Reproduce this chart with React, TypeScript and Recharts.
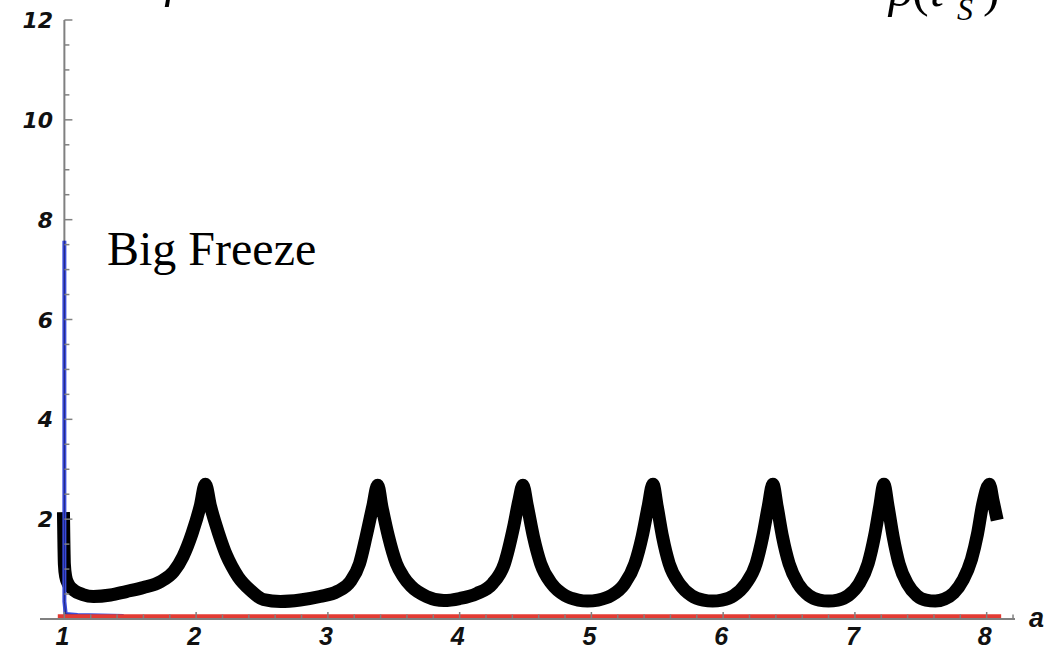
import { Line, LineChart, ReferenceLine, XAxis, YAxis } from "recharts";

// a (scale factor) vs rho
const curveA = [
  0.993, 0.996, 1.0, 1.01, 1.03, 1.07, 1.14, 1.22, 1.35, 1.47, 1.6, 1.73, 1.83, 1.9, 1.97, 2.03, 2.07,
  2.11, 2.17, 2.23, 2.27, 2.32, 2.41, 2.51, 2.64, 2.79, 2.94, 3.07, 3.17, 3.24, 3.29, 3.34, 3.378,
  3.41, 3.46, 3.52, 3.57, 3.63, 3.75, 3.88, 4.0, 4.13, 4.25, 4.34, 4.41, 4.45, 4.48,
  4.515, 4.56, 4.615, 4.7, 4.8, 4.9, 4.97, 5.05, 5.15, 5.25, 5.33, 5.385, 5.43, 5.467,
  5.5, 5.54, 5.59, 5.67, 5.76, 5.85, 5.92, 5.99, 6.08, 6.17, 6.25, 6.3, 6.342, 6.377,
  6.41, 6.45, 6.5, 6.57, 6.65, 6.73, 6.8, 6.87, 6.95, 7.03, 7.1, 7.148, 7.188, 7.22,
  7.252, 7.29, 7.335, 7.4, 7.47, 7.54, 7.61, 7.68, 7.75, 7.82, 7.885, 7.93, 7.97, 8.02,
  8.05, 8.08,
];
const curveRho = [
  2.14, 1.6, 1.1, 0.85, 0.7, 0.58, 0.49, 0.45, 0.48, 0.55, 0.63, 0.75, 0.95, 1.25, 1.72, 2.25, 2.7,
  2.25, 1.72, 1.28, 1.06, 0.84, 0.58, 0.39, 0.35, 0.38, 0.45, 0.55, 0.75, 1.11, 1.65, 2.25, 2.68,
  2.25, 1.65, 1.11, 0.86, 0.66, 0.45, 0.37, 0.41, 0.51, 0.71, 1.11, 1.85, 2.38, 2.68,
  2.25, 1.65, 1.11, 0.7, 0.47, 0.38, 0.36, 0.38, 0.47, 0.7, 1.11, 1.65, 2.25, 2.7,
  2.25, 1.65, 1.11, 0.7, 0.47, 0.38, 0.36, 0.38, 0.47, 0.7, 1.11, 1.65, 2.25, 2.7,
  2.25, 1.65, 1.11, 0.7, 0.47, 0.38, 0.36, 0.38, 0.47, 0.7, 1.11, 1.65, 2.25, 2.7,
  2.25, 1.65, 1.11, 0.7, 0.47, 0.38, 0.36, 0.4, 0.52, 0.78, 1.2, 1.7, 2.3, 2.7,
  2.35, 1.98,
];

// early blue spike near a = 1
const spikeA = [1.0, 1.0, 1.01, 1.1, 1.45];
const spikeRho = [7.58, 0.35, 0.1, 0.08, 0.06];

// red baseline
const baseA = [0.95, 8.11];
const baseRho = [0.05, 0.05];

const xMajor = [1, 2, 3, 4, 5, 6, 7, 8];
const xTicks = [
  1, 1.2, 1.4, 1.6, 1.8, 2, 2.2, 2.4, 2.6, 2.8, 3, 3.2, 3.4, 3.6, 3.8, 4, 4.2, 4.4, 4.6, 4.8,
  5, 5.2, 5.4, 5.6, 5.8, 6, 6.2, 6.4, 6.6, 6.8, 7, 7.2, 7.4, 7.6, 7.8, 8, 8.2,
];
const yMajor = [2, 4, 6, 8, 10, 12];
const yTicks = [
  0.5, 1, 1.5, 2, 2.5, 3, 3.5, 4, 4.5, 5, 5.5, 6, 6.5, 7, 7.5, 8, 8.5, 9, 9.5, 10, 10.5, 11, 11.5, 12,
];

const curve = curveA.map((a, i) => ({ a, rho: curveRho[i] }));
const spike = spikeA.map((a, i) => ({ a, rho: spikeRho[i] }));
const base = baseA.map((a, i) => ({ a, rho: baseRho[i] }));

const axisGrey = "#808080";
const xFont = {
  fontFamily: "'Liberation Sans', Arial, sans-serif",
  fontWeight: 700,
  fontStyle: "italic",
  fontSize: 25,
  fill: "#111",
};
const yFont = {
  fontFamily: "'DejaVu Sans', sans-serif",
  fontWeight: 700,
  fontStyle: "italic",
  fontSize: 22,
  fill: "#111",
};
// y axis sits at a = 1, right of the plot's left edge
const Y_AXIS_DX = 24.4;

function XTick({ x, y, payload }: any) {
  const major = xMajor.includes(payload.value);
  return (
    <g>
      <line x1={x} x2={x} y1={y} y2={y - (major ? 7 : 4.5)} stroke={axisGrey} strokeWidth={1.5} />
      {major && (
        <text x={x - 2} y={y + 26} textAnchor="middle" style={xFont}>
          {payload.value}
        </text>
      )}
    </g>
  );
}

function YTick({ x, y, payload }: any) {
  const major = yMajor.includes(payload.value);
  const ax = x + Y_AXIS_DX;
  return (
    <g>
      <line x1={ax} x2={ax + (major ? 8 : 5)} y1={y} y2={y} stroke={axisGrey} strokeWidth={1.5} />
      {major && (
        <text x={x + 13} y={y + 8} textAnchor="end" style={yFont}>
          {payload.value}
        </text>
      )}
    </g>
  );
}

export default function App() {
  return (
    <div style={{ position: "absolute", left: 0, top: 0, width: 1052, height: 649, background: "#fff" }}>
      <LineChart width={1052} height={649} margin={{ top: 20, right: 37, bottom: 0, left: 0 }}>
        <XAxis
          type="number"
          dataKey="a"
          domain={[0.815, 8.215]}
          allowDataOverflow
          ticks={xTicks}
          interval={0}
          height={30}
          tickSize={0}
          tickMargin={0}
          tickLine={false}
          axisLine={{ stroke: axisGrey, strokeWidth: 2 }}
          tick={<XTick />}
        />
        <YAxis
          type="number"
          dataKey="rho"
          domain={[0, 12]}
          allowDataOverflow
          ticks={yTicks}
          interval={0}
          width={40}
          tickSize={0}
          tickMargin={0}
          tickLine={false}
          axisLine={false}
          tick={<YTick />}
        />
        <ReferenceLine x={1} stroke={axisGrey} strokeWidth={2} />
        <Line
          data={curve}
          dataKey="rho"
          type="monotone"
          stroke="#000"
          strokeWidth={13}
          strokeLinejoin="round"
          dot={false}
          isAnimationActive={false}
        />
        <Line
          data={spike}
          dataKey="rho"
          type="linear"
          stroke="#3a4cdc"
          strokeWidth={4}
          dot={false}
          isAnimationActive={false}
        />
        <Line
          data={spike}
          dataKey="rho"
          type="linear"
          stroke="#1a1a50"
          strokeWidth={0.7}
          dot={false}
          isAnimationActive={false}
        />
        <Line
          data={base}
          dataKey="rho"
          type="linear"
          stroke="#e33b33"
          strokeWidth={4.5}
          dot={false}
          isAnimationActive={false}
        />
      </LineChart>
      <svg
        width={1052}
        height={649}
        style={{ position: "absolute", left: 0, top: 0, pointerEvents: "none" }}
      >
        <text x={107} y={265} style={{ fontFamily: "'Liberation Serif', serif", fontSize: 48, fill: "#000" }}>
          Big Freeze
        </text>
        <text
          x={1029}
          y={627}
          style={{ fontFamily: "'Liberation Sans', Arial, sans-serif", fontWeight: 700, fontStyle: "italic", fontSize: 27, fill: "#111" }}
        >
          a
        </text>
        <g style={{ fontFamily: "'Liberation Serif', serif", fill: "#000" }}>
          <text x={166} y={-4} style={{ fontSize: 50, fontStyle: "italic" }}>ρ</text>
          <text x={889} y={6} style={{ fontSize: 50, fontStyle: "italic" }}>ρ</text>
          <text x={912} y={6} style={{ fontSize: 50 }}>(</text>
          <text x={930} y={6} style={{ fontSize: 50, fontStyle: "italic" }}>t</text>
          <text x={957} y={20} style={{ fontSize: 32, fontStyle: "italic" }}>S</text>
          <text x={983} y={6} style={{ fontSize: 50 }}>)</text>
        </g>
      </svg>
    </div>
  );
}
